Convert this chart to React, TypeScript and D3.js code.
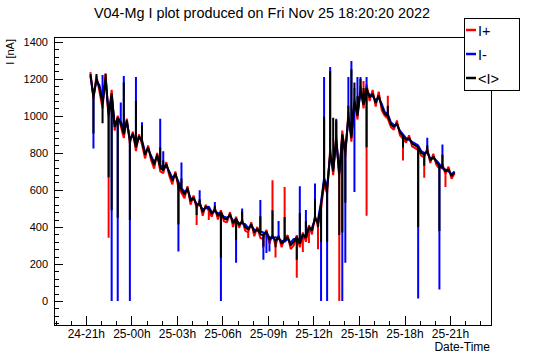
import React, { useEffect, useRef } from 'react';
import * as d3 from 'd3';

const title = 'V04-Mg I plot produced on Fri Nov 25 18:20:20 2022';
const seriesNames = ['I+', 'I-', '<I>'];
const seriesColors = ['#ff0000', '#0000ff', '#000000'];

// first reading 24 Nov 21:18, one reading every 12 minutes
const startTime = new Date(2022, 10, 24, 21, 18);
const stepMinutes = 12;

// I+ [nA], regular readings
const iPlus = [
  1236, 1090, 1215, 1130, 1040, 1230, 980, 1140, 920, 1000,
  945, 880, 985, 850, 915, 810, 900, 845, 770, 840,
  760, 715, 800, 700, 690, 750, 675, 630, 700, 610,
  585, 555, 620, 520, 570, 500, 540, 460, 520, 485,
  455, 505, 440, 490, 430, 425, 480, 400, 455, 395,
  440, 380, 370, 425, 350, 400, 340, 335, 385, 310,
  360, 300, 355, 290, 340, 355, 280, 300, 355, 290,
  370, 320, 410, 360, 460, 400, 500, 630, 580, 820,
  680, 900, 660, 920, 780, 1020, 860, 1100, 980, 1160,
  1040, 1170, 1080, 1140, 1050, 1130, 1030, 1000, 985, 940,
  925, 975, 895, 875, 855, 895, 835, 825, 815, 785,
  775, 825, 745, 795, 735, 715, 740, 685, 725, 660,
  690,
];
// I+ short excursions: [reading index, value]
const iPlusSpikes = [
  [6, 341], [35, 410], [39, 437], [52, 340], [57, 287], [60, 652], [61, 235], [64, 616],
  [66, 294], [68, 126], [70, 265], [72, 313], [75, 280], [77, 984], [81, 968], [82, 0],
  [87, 1150], [90, 1188], [91, 460], [98, 1108], [103, 759], [110, 665], [117, 616],
];

// I- [nA], regular readings
const iMinus = [
  1215, 1110, 1190, 1165, 1075, 1195, 1015, 1105, 955, 980,
  975, 915, 965, 875, 895, 845, 880, 870, 805, 820,
  785, 750, 780, 735, 715, 730, 700, 665, 680, 645,
  610, 590, 600, 555, 550, 525, 520, 495, 500, 510,
  480, 485, 475, 470, 455, 450, 460, 435, 435, 420,
  420, 415, 395, 405, 385, 380, 375, 370, 365, 345,
  340, 345, 335, 325, 320, 335, 315, 335, 335, 325,
  350, 355, 390, 395, 440, 440, 535, 665, 615, 785,
  715, 865, 695, 885, 815, 985, 895, 1065, 1015, 1125,
  1075, 1135, 1115, 1105, 1085, 1095, 1065, 1020, 1010, 965,
  950, 950, 920, 900, 880, 870, 860, 850, 840, 810,
  800, 800, 770, 770, 760, 740, 715, 710, 700, 685,
  700,
];
const iMinusSpikes = [
  [1, 823], [4, 1220], [7, 0], [9, 0], [10, 1072], [11, 1215], [13, 0], [15, 1210],
  [17, 965], [23, 984], [24, 809], [29, 267], [30, 748], [36, 598], [41, 534], [43, 0],
  [48, 206], [50, 500], [56, 545], [57, 223], [58, 259], [59, 267], [62, 432], [69, 620],
  [71, 491], [74, 635], [76, 0], [77, 1210], [78, 0], [79, 1263], [81, 984], [83, 0],
  [84, 206], [85, 1210], [86, 1296], [87, 589], [88, 1210], [89, 1210], [91, 1210],
  [108, 13], [111, 882], [115, 62], [116, 845],
];

// <I> [nA], regular readings
const iMean = [
  1225, 1100, 1200, 1150, 1060, 1210, 1000, 1120, 940, 990,
  960, 900, 975, 865, 905, 830, 890, 860, 790, 830,
  775, 735, 790, 720, 705, 740, 690, 650, 690, 630,
  600, 575, 610, 540, 560, 515, 530, 480, 510, 500,
  470, 495, 460, 480, 445, 440, 470, 420, 445, 410,
  430, 400, 385, 415, 370, 390, 360, 355, 375, 330,
  350, 325, 345, 310, 330, 345, 300, 320, 345, 310,
  360, 340, 400, 380, 450, 420, 520, 650, 600, 800,
  700, 880, 680, 900, 800, 1000, 880, 1080, 1000, 1140,
  1060, 1150, 1100, 1120, 1070, 1110, 1050, 1010, 1000, 955,
  940, 960, 910, 890, 870, 880, 850, 840, 830, 800,
  790, 810, 760, 780, 750, 730, 725, 700, 710, 675,
  695,
];
const iMeanSpikes = [
  [1, 905], [2, 1226], [4, 960], [5, 1226], [6, 668], [7, 490], [9, 450], [11, 1180],
  [13, 437], [15, 1081], [17, 947], [23, 830], [24, 759], [29, 413], [30, 661], [35, 465],
  [36, 549], [41, 514], [43, 233], [48, 330], [50, 485], [56, 457], [57, 296], [60, 490],
  [61, 290], [64, 453], [68, 223], [69, 475], [71, 430], [74, 550], [75, 400], [76, 320],
  [77, 995], [78, 320], [79, 1242], [80, 990], [81, 976], [82, 357], [83, 370], [84, 530],
  [85, 1055], [86, 1252], [87, 1180], [88, 1105], [89, 1200], [90, 1150], [91, 830],
  [98, 1054], [103, 829], [108, 400], [110, 730], [111, 841], [115, 378], [116, 790],
];

const font = 'Liberation Sans, Arial, Helvetica, sans-serif';

export default function App() {
  const svgRef = useRef<SVGSVGElement>(null);

  useEffect(() => {
    const svg = d3.select(svgRef.current);
    svg.selectAll('*').remove();

    const frame = { left: 54, right: 491, top: 37, bottom: 325 };
    const times = iPlus.map((_, i) => new Date(startTime.getTime() + i * stepMinutes * 60000));
    const n = times.length;

    // readings plus their spikes, in time order (a spike goes out and back at one time)
    const buildPoints = (vals: number[], spikes: number[][]) => {
      const pts: [Date, number][] = [];
      vals.forEach((v, i) => {
        pts.push([times[i], v]);
        spikes.filter(s => s[0] === i).forEach(s => {
          pts.push([times[i], s[1]]);
          pts.push([times[i], v]);
        });
      });
      return pts;
    };
    const series = [
      buildPoints(iPlus, iPlusSpikes),
      buildPoints(iMinus, iMinusSpikes),
      buildPoints(iMean, iMeanSpikes),
    ];

    // ROOT-like ranges: 10% margin around the data
    const all = series.flat().map(p => p[1]);
    const vMin = d3.min(all) as number;
    const vMax = d3.max(all) as number;
    const vPad = 0.1 * (vMax - vMin);
    const y = d3.scaleLinear().domain([vMin - vPad, vMax + vPad]).range([frame.bottom, frame.top]);

    const tSpan = times[n - 1].getTime() - times[0].getTime();
    const x = d3.scaleTime()
      .domain([new Date(times[0].getTime() - 0.1 * tSpan), new Date(times[n - 1].getTime() + 0.1 * tSpan)])
      .range([frame.left, frame.right]);

    svg.append('rect').attr('width', 546).attr('height', 362).attr('fill', '#fff');

    // data
    const line = d3.line<[Date, number]>()
      .x(d => x(d[0]))
      .y(d => y(d[1]));
    series.forEach((pts, k) => {
      svg.append('path')
        .attr('d', line(pts))
        .attr('fill', 'none')
        .attr('stroke', seriesColors[k])
        .attr('stroke-width', 2)
        .attr('stroke-linejoin', 'bevel');
    });

    // frame
    svg.append('rect')
      .attr('x', frame.left).attr('y', frame.top)
      .attr('width', frame.right - frame.left).attr('height', frame.bottom - frame.top)
      .attr('fill', 'none').attr('stroke', '#000').attr('shape-rendering', 'crispEdges');

    // y axis, ticks pointing inward
    const yMajor = y.ticks(8);
    const yStep = yMajor[1] - yMajor[0];
    const yMinor = d3.range(Math.ceil(y.domain()[0] / (yStep / 5)) * (yStep / 5), y.domain()[1], yStep / 5);

    svg.append('g')
      .attr('transform', `translate(${frame.left},0)`)
      .call(d3.axisLeft(y).tickValues(yMinor).tickSize(-4.5).tickFormat(() => ''))
      .call(g => g.select('.domain').remove());
    const yAxis = svg.append('g')
      .attr('transform', `translate(${frame.left},0)`)
      .call(d3.axisLeft(y).tickValues(yMajor).tickSize(-9).tickPadding(6).tickFormat(d3.format('d')))
      .call(g => g.select('.domain').remove());
    yAxis.selectAll('text').attr('font-size', 11).attr('font-family', font).attr('fill', '#000');

    // x axis
    const xMajor = d3.timeHour.every(3)!.range(x.domain()[0], x.domain()[1]);
    const xMinor = d3.timeHour.every(1)!.range(x.domain()[0], x.domain()[1]);
    svg.append('g')
      .attr('transform', `translate(0,${frame.bottom})`)
      .call(d3.axisBottom(x).tickValues(xMinor).tickSize(-4.5).tickFormat(() => ''))
      .call(g => g.select('.domain').remove());
    const xAxis = svg.append('g')
      .attr('transform', `translate(0,${frame.bottom})`)
      .call(d3.axisBottom(x).tickValues(xMajor).tickSize(-9).tickPadding(4)
        .tickFormat(d => d3.timeFormat('%d-%Hh')(d as Date)))
      .call(g => g.select('.domain').remove());
    xAxis.selectAll('text').attr('font-size', 12).attr('font-family', font).attr('fill', '#000');
    svg.selectAll('.tick line').attr('shape-rendering', 'crispEdges');

    // axis titles
    svg.append('text')
      .attr('x', 490).attr('y', 351)
      .attr('text-anchor', 'end')
      .attr('font-size', 12).attr('font-family', font)
      .text('Date-Time');
    svg.append('text')
      .attr('transform', 'translate(14,39) rotate(-90)')
      .attr('text-anchor', 'end')
      .attr('font-size', 11).attr('font-family', font)
      .text('I [nA]');

    // title
    svg.append('text')
      .attr('x', 262).attr('y', 18)
      .attr('text-anchor', 'middle')
      .attr('font-size', 14.4).attr('font-family', font)
      .text(title);

    // legend
    const legend = svg.append('g');
    legend.append('rect')
      .attr('x', 464).attr('y', 18).attr('width', 55).attr('height', 72)
      .attr('fill', '#fff').attr('stroke', '#000').attr('shape-rendering', 'crispEdges');
    const rowY = [30, 54, 78];
    seriesNames.forEach((name, k) => {
      legend.append('line')
        .attr('x1', 466).attr('x2', 476).attr('y1', rowY[k]).attr('y2', rowY[k])
        .attr('stroke', seriesColors[k]).attr('stroke-width', 2.5);
      legend.append('text')
        .attr('x', 478).attr('y', rowY[k] + 5.5)
        .attr('font-size', 14.5).attr('font-family', font)
        .text(name);
    });
  }, []);

  return (
    <svg ref={svgRef} width={546} height={362}
      style={{ position: 'absolute', left: 0, top: 0, display: 'block' }} />
  );
}
